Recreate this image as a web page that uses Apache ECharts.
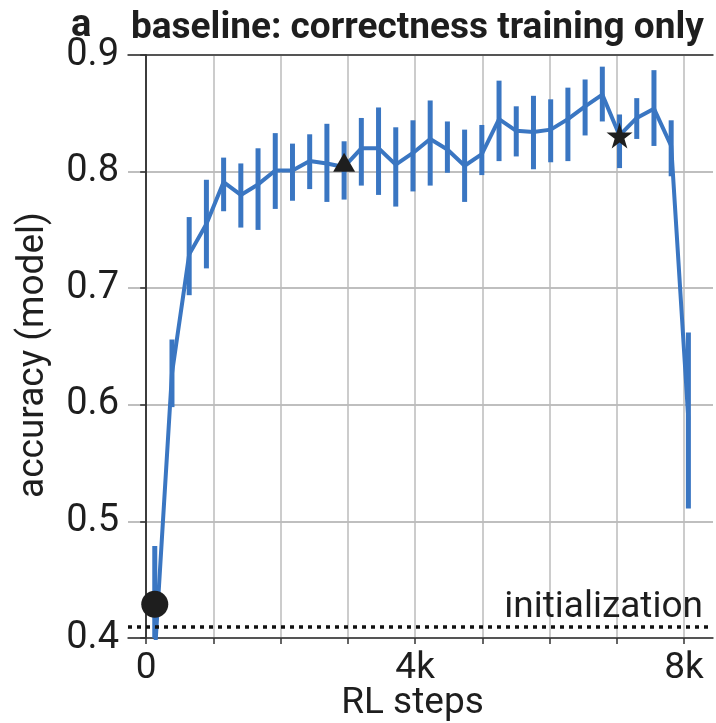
<!DOCTYPE html>
<html><head><meta charset="utf-8">
<script src="https://cdn.jsdelivr.net/npm/echarts@6/dist/echarts.min.js"></script>
<style>html,body{margin:0;padding:0;background:#fff}#c{width:716px;height:723px}</style>
</head><body><div id="c"></div>
<script>
const steps = [128, 384, 640, 896, 1152, 1408, 1664, 1920, 2176, 2432, 2688, 2944, 3200, 3456, 3712, 3968, 4224, 4480, 4736, 4992, 5248, 5504, 5760, 6016, 6272, 6528, 6784, 7040, 7296, 7552, 7808, 8064];
const accMean = [0.385, 0.627, 0.729, 0.755, 0.791, 0.780, 0.789, 0.801, 0.801, 0.809, 0.807, 0.804, 0.820, 0.820, 0.806, 0.816, 0.828, 0.819, 0.805, 0.815, 0.845, 0.835, 0.834, 0.836, 0.845, 0.856, 0.866, 0.831, 0.846, 0.854, 0.822, 0.587];
const accLow = [0.290, 0.598, 0.694, 0.717, 0.766, 0.752, 0.750, 0.768, 0.775, 0.785, 0.774, 0.776, 0.788, 0.780, 0.770, 0.783, 0.788, 0.799, 0.774, 0.797, 0.809, 0.813, 0.802, 0.808, 0.809, 0.831, 0.843, 0.803, 0.828, 0.822, 0.796, 0.511];
const accHigh = [0.479, 0.656, 0.761, 0.793, 0.812, 0.807, 0.820, 0.833, 0.824, 0.832, 0.841, 0.826, 0.846, 0.855, 0.838, 0.844, 0.861, 0.843, 0.836, 0.840, 0.878, 0.856, 0.865, 0.862, 0.872, 0.879, 0.890, 0.849, 0.863, 0.887, 0.844, 0.662];
const initValue = 0.4125;
const circlePoint = [128, 0.429];
const trianglePoint = [2944, 0.808];
const starPoint = [7040, 0.831];
const xTicks = [0, 1000, 2000, 3000, 4000, 5000, 6000, 7000, 8000];
const xLabelValues = [0, 4000, 8000];
const xTickLabels = ['0', '4k', '8k'];

const blue = '#3a76c2';
const ink = '#1e1e1e';
const font = 'Roboto';
const chart = echarts.init(document.getElementById('c'), null, {renderer: 'canvas'});
const lineData = steps.map((s, i) => [s, accMean[i]]);
const errData = steps.map((s, i) => [s, accLow[i], accHigh[i]]);
const frameAxisLine = {show: true, lineStyle: {color: '#333', width: 1.5}};

chart.setOption({
  animation: false,
  backgroundColor: '#fff',
  title: [
    {text: 'a', left: 66, top: 2, textStyle: {fontFamily: font, fontWeight: 'bold', fontSize: 38, color: ink}},
    {text: 'baseline: correctness training only', left: 126, top: 5, textStyle: {fontFamily: font, fontWeight: 'bold', fontSize: 37, color: ink}}
  ],
  grid: {left: 128, top: 55, right: 3, bottom: 85, outerBoundsMode: 'none', containLabel: false},
  xAxis: [{
    type: 'value', min: -270, max: 8430,
    name: 'RL steps', nameLocation: 'middle', nameGap: 47, nameMoveOverlap: false,
    nameTextStyle: {fontFamily: font, fontSize: 37, color: ink, padding: [0, 16, 0, 0]},
    axisLine: frameAxisLine,
    axisTick: {show: true, customValues: xTicks, length: 6, lineStyle: {color: '#333', width: 1.5}},
    axisLabel: {customValues: xLabelValues, fontFamily: font, fontSize: 37, color: ink, margin: 12,
      formatter: v => xTickLabels[xLabelValues.indexOf(v)]},
    splitLine: {show: true, lineStyle: {color: '#bbb', width: 1.5}}
  }, {
    type: 'value', min: -270, max: 8430, position: 'top',
    axisLine: frameAxisLine, axisTick: {show: false}, axisLabel: {show: false}, splitLine: {show: false}
  }],
  yAxis: [{
    type: 'value', min: 0.4, max: 0.9, interval: 0.1,
    name: 'accuracy (model)', nameLocation: 'middle', nameGap: 76, nameMoveOverlap: false,
    nameTextStyle: {fontFamily: font, fontSize: 37, color: ink, padding: [0, 17, 0, 0]},
    axisLine: frameAxisLine,
    axisTick: {show: true, length: 6, lineStyle: {color: '#333', width: 1.5}},
    axisLabel: {fontFamily: font, fontSize: 38, color: ink, margin: 9, formatter: v => v.toFixed(1)},
    splitLine: {show: true, lineStyle: {color: '#aaa', width: 1.5}}
  }, {
    type: 'value', min: 0.4, max: 0.9, position: 'right',
    axisLine: frameAxisLine, axisTick: {show: false}, axisLabel: {show: false}, splitLine: {show: false}
  }],
  series: [
    {
      type: 'custom', clip: true, z: 3,
      renderItem: (params, api) => {
        const p1 = api.coord([api.value(0), api.value(1)]);
        const p2 = api.coord([api.value(0), api.value(2)]);
        return {type: 'line', shape: {x1: p1[0], y1: p1[1], x2: p2[0], y2: p2[1]},
          style: {stroke: blue, lineWidth: 5}};
      },
      encode: {x: 0, y: [1, 2]},
      data: errData
    },
    {
      type: 'line', data: lineData, showSymbol: false, symbol: 'none', clip: true, z: 4,
      lineStyle: {color: blue, width: 4},
      markLine: {
        silent: true, symbol: 'none',
        lineStyle: {color: '#111', type: [4, 5], width: 3.5},
        label: {show: true, position: 'insideEndTop', formatter: 'initialization', fontFamily: font, fontSize: 37, color: ink, distance: [10, 0]},
        data: [{yAxis: initValue}]
      }
    },
    {type: 'scatter', data: [circlePoint], symbol: 'circle', symbolSize: 27, itemStyle: {color: ink, opacity: 1}, z: 5},
    {type: 'scatter', data: [trianglePoint], symbol: 'triangle', symbolSize: [22, 19], itemStyle: {color: ink, opacity: 1}, z: 5},
    {type: 'scatter', data: [starPoint], symbol: 'path://M50,0 L61,35 L98,35 L68,57 L79,91 L50,70 L21,91 L32,57 L2,35 L39,35 Z', symbolSize: 26, itemStyle: {color: ink, opacity: 1}, z: 5}
  ]
});
</script></body></html>
